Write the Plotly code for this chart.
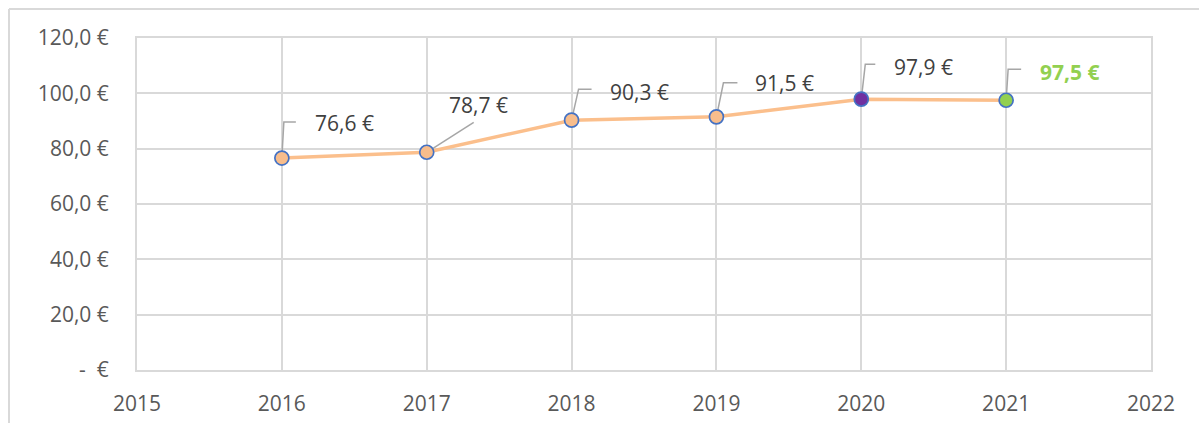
import plotly.graph_objects as go

# Average value per year
years = [2016, 2017, 2018, 2019, 2020, 2021]
values = [76.6, 78.7, 90.3, 91.5, 97.9, 97.5]

# Axis ticks
x_ticks = [2015, 2016, 2017, 2018, 2019, 2020, 2021, 2022]
y_ticks = [0, 20, 40, 60, 80, 100, 120]
y_tick_text = ["-  €", "20,0 €", "40,0 €", "60,0 €", "80,0 €", "100,0 €", "120,0 €"]

# Marker fills (last two years highlighted)
marker_fills = ["#f8bd8c", "#f8bd8c", "#f8bd8c", "#f8bd8c", "#7030a0", "#92d050"]

# Label placement relative to each point (pixels) and leader-line paths
label_offsets = [(63, -35), (52, -47), (68, -28), (68, -34), (62, -32), (63, -28)]
leader_paths = [
    "M0,0 L2,36 L14,36",
    "M0,0 L47,30",
    "M0,0 L7,31 L20,31",
    "M0,0 L7,34 L21,34",
    "M0,0 L4,35 L14,35",
    "M0,0 L2,31 L15,31",
]

FONT = "Open Sans"
GRID = "#d9d9d9"
W, H = 1199, 423
ML, MR, MT, MB = 137, 48, 38, 53


def euro(v):
    return f"{v:.1f} €".replace(".", ",")


fig = go.Figure()
fig.add_trace(go.Scatter(
    x=years, y=values, mode="lines+markers",
    line=dict(color="#fbbf8c", width=3.5),
    marker=dict(size=14, color=marker_fills, line=dict(color="#4472c4", width=1.7)),
    hoverinfo="skip", showlegend=False,
))

annotations = []
shapes = []
for i, (yr, v) in enumerate(zip(years, values)):
    last = i == len(years) - 1
    ax, ay = label_offsets[i]
    annotations.append(dict(
        x=yr, y=v, xref="x", yref="y", text=(f"<b>{euro(v)}</b>" if last else euro(v)),
        showarrow=True, arrowcolor="rgba(0,0,0,0)", ax=ax, ay=ay,
        font=dict(family=FONT, size=21, color="#92d050" if last else "#404040"),
    ))
    shapes.append(dict(
        type="path", xref="x", yref="y", xsizemode="pixel", ysizemode="pixel",
        xanchor=yr, yanchor=v, path=leader_paths[i],
        line=dict(color="#a6a6a6", width=1.5), layer="between",
    ))

# Chart-area frame (left and top edges)
pw, ph = W - ML - MR, H - MT - MB
fx0 = (9 - ML) / pw
fy1 = 1 + (MT - 9) / ph
shapes.append(dict(type="line", xref="paper", yref="paper", x0=fx0, x1=fx0,
                   y0=fy1, y1=-MB / ph - 0.05, line=dict(color=GRID, width=2)))
shapes.append(dict(type="line", xref="paper", yref="paper", x0=fx0, x1=1 + MR / pw + 0.05,
                   y0=fy1, y1=fy1, line=dict(color=GRID, width=2)))

fig.update_layout(
    width=W, height=H,
    margin=dict(l=ML, r=MR, t=MT, b=MB, autoexpand=False),
    paper_bgcolor="white", plot_bgcolor="white",
    annotations=annotations, shapes=shapes,
    xaxis=dict(
        range=[2015, 2022], tickvals=x_ticks, ticktext=[str(t) for t in x_ticks],
        showgrid=True, gridcolor=GRID, gridwidth=1.5,
        showline=True, linecolor=GRID, linewidth=2, mirror=True,
        zeroline=False, ticks="", ticklabelstandoff=14, automargin=False,
        tickfont=dict(family=FONT, size=21, color="#595959"),
    ),
    yaxis=dict(
        range=[0, 120], tickvals=y_ticks, ticktext=y_tick_text,
        showgrid=True, gridcolor=GRID, gridwidth=1.5,
        showline=True, linecolor=GRID, linewidth=2, mirror=True,
        zeroline=False, ticks="", ticklabelstandoff=22, automargin=False,
        tickfont=dict(family=FONT, size=21, color="#595959"),
    ),
)

fig.write_html("out.html")
